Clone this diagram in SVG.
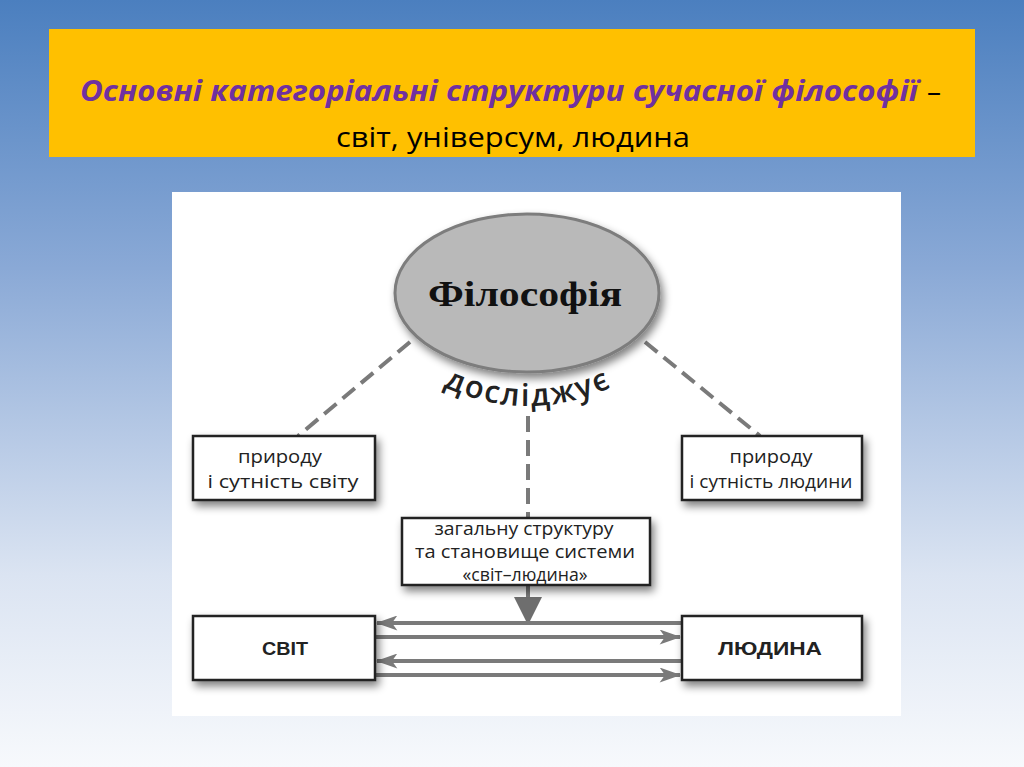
<svg xmlns="http://www.w3.org/2000/svg" width="1024" height="767" viewBox="0 0 1024 767">
<defs>
<linearGradient id="bg" x1="0" y1="0" x2="0" y2="1">
<stop offset="0" stop-color="#4b7fbf"/>
<stop offset="0.35" stop-color="#8aa9d6"/>
<stop offset="0.75" stop-color="#dbe4f2"/>
<stop offset="1" stop-color="#f7f9fc"/>
</linearGradient>
<filter id="sh" x="-20%" y="-30%" width="150%" height="170%">
<feGaussianBlur in="SourceAlpha" stdDeviation="4"/>
<feOffset dx="3" dy="5" result="b"/>
<feComponentTransfer><feFuncA type="linear" slope="0.5"/></feComponentTransfer>
<feMerge><feMergeNode/><feMergeNode in="SourceGraphic"/></feMerge>
</filter>
<marker id="ah" viewBox="0 0 20 14" refX="19" refY="7" markerWidth="22" markerHeight="15" orient="auto" markerUnits="userSpaceOnUse">
<path d="M0,0 L20,7 L0,14 L5,7 Z" fill="#7a7a7a"/>
</marker>
<marker id="ahh" viewBox="0 0 14 14" refX="13" refY="7" markerWidth="28" markerHeight="28" orient="auto" markerUnits="userSpaceOnUse">
<path d="M0,0 L14,7 L0,14 Z" fill="#6e6e6e"/>
</marker>
<path id="arc" d="M406 366 Q528 446 650 366"/>
<style>
.box{fill:#fff;stroke:#222;stroke-width:2.5;filter:url(#sh)}
.t{font-family:"Open Sans","Liberation Sans",sans-serif;font-size:18px;fill:#222;text-anchor:middle}
.tb{font-family:"Liberation Sans",sans-serif;font-size:19px;font-weight:bold;fill:#222;text-anchor:middle}
.dash{stroke:#7a7a7a;stroke-width:4;stroke-dasharray:16 8;fill:none}
.ar{stroke:#7a7a7a;stroke-width:4;fill:none}
</style>
</defs>
<rect x="0" y="0" width="1024" height="767" fill="url(#bg)"/>
<g id="title">
<rect x="49" y="29" width="926" height="128" fill="#ffc000"/>
<text x="80" y="101" font-family="Open Sans, Liberation Sans, sans-serif" font-size="28" font-weight="bold" font-style="italic" fill="#7030a0" textLength="838" lengthAdjust="spacingAndGlyphs">Основні категоріальні структури сучасної філософії</text>
<text x="927" y="101" font-family="Open Sans, Liberation Sans, sans-serif" font-size="28" fill="#000">–</text>
<text x="513" y="147" font-family="Open Sans, Liberation Sans, sans-serif" font-size="28" fill="#000" text-anchor="middle" textLength="354" lengthAdjust="spacingAndGlyphs">світ, універсум, людина</text>
</g>
<rect x="172" y="192" width="729" height="524" fill="#fff"/>
<g id="connectors">
<line class="dash" x1="410" y1="342" x2="298" y2="436"/>
<line class="dash" x1="645" y1="342" x2="760" y2="436"/>
<line class="dash" x1="528" y1="416" x2="528" y2="518"/>
<line x1="528" y1="586" x2="528" y2="623" stroke="#7a7a7a" stroke-width="4" marker-end="url(#ahh)"/>
<line class="ar" x1="682" y1="623" x2="377" y2="623" marker-end="url(#ah)"/>
<line class="ar" x1="376" y1="637" x2="680" y2="637" marker-end="url(#ah)"/>
<line class="ar" x1="682" y1="661" x2="377" y2="661" marker-end="url(#ah)"/>
<line class="ar" x1="376" y1="675" x2="680" y2="675" marker-end="url(#ah)"/>
</g>
<g id="philosophy">
<ellipse cx="527" cy="293" rx="132" ry="79" fill="#b9b9b9" stroke="#7d7d7d" stroke-width="3" filter="url(#sh)"/>
<text x="525" y="306" font-family="Liberation Serif, serif" font-size="36" font-weight="bold" fill="#111" text-anchor="middle" textLength="194" lengthAdjust="spacingAndGlyphs">Філософія</text>
<text font-family="Open Sans, Liberation Sans, sans-serif" font-size="31" font-weight="600" fill="#222" letter-spacing="2"><textPath href="#arc" startOffset="50%" text-anchor="middle">досліджує</textPath></text>
</g>
<g id="world-nature">
<rect class="box" x="193" y="436" width="182" height="64"/>
<text class="t" x="280" y="463" textLength="84" lengthAdjust="spacingAndGlyphs">природу</text>
<text class="t" x="283" y="488" textLength="151" lengthAdjust="spacingAndGlyphs">і сутність світу</text>
</g>
<g id="human-nature">
<rect class="box" x="682" y="436" width="180" height="64"/>
<text class="t" x="771" y="463" textLength="83" lengthAdjust="spacingAndGlyphs">природу</text>
<text class="t" x="771" y="488" textLength="163" lengthAdjust="spacingAndGlyphs">і сутність людини</text>
</g>
<g id="structure">
<rect class="box" x="402" y="518" width="248" height="67"/>
<text class="t" x="524" y="535" textLength="179" lengthAdjust="spacingAndGlyphs">загальну структуру</text>
<text class="t" x="525" y="558" textLength="220" lengthAdjust="spacingAndGlyphs">та становище системи</text>
<text class="t" x="525" y="581" textLength="125" lengthAdjust="spacingAndGlyphs">«світ–людина»</text>
</g>
<g id="world">
<rect class="box" x="193" y="616" width="182" height="64"/>
<text class="tb" x="285" y="655" textLength="46" lengthAdjust="spacingAndGlyphs">СВІТ</text>
</g>
<g id="human">
<rect class="box" x="682" y="616" width="180" height="64"/>
<text class="tb" x="770" y="655" textLength="104" lengthAdjust="spacingAndGlyphs">ЛЮДИНА</text>
</g>
</svg>
